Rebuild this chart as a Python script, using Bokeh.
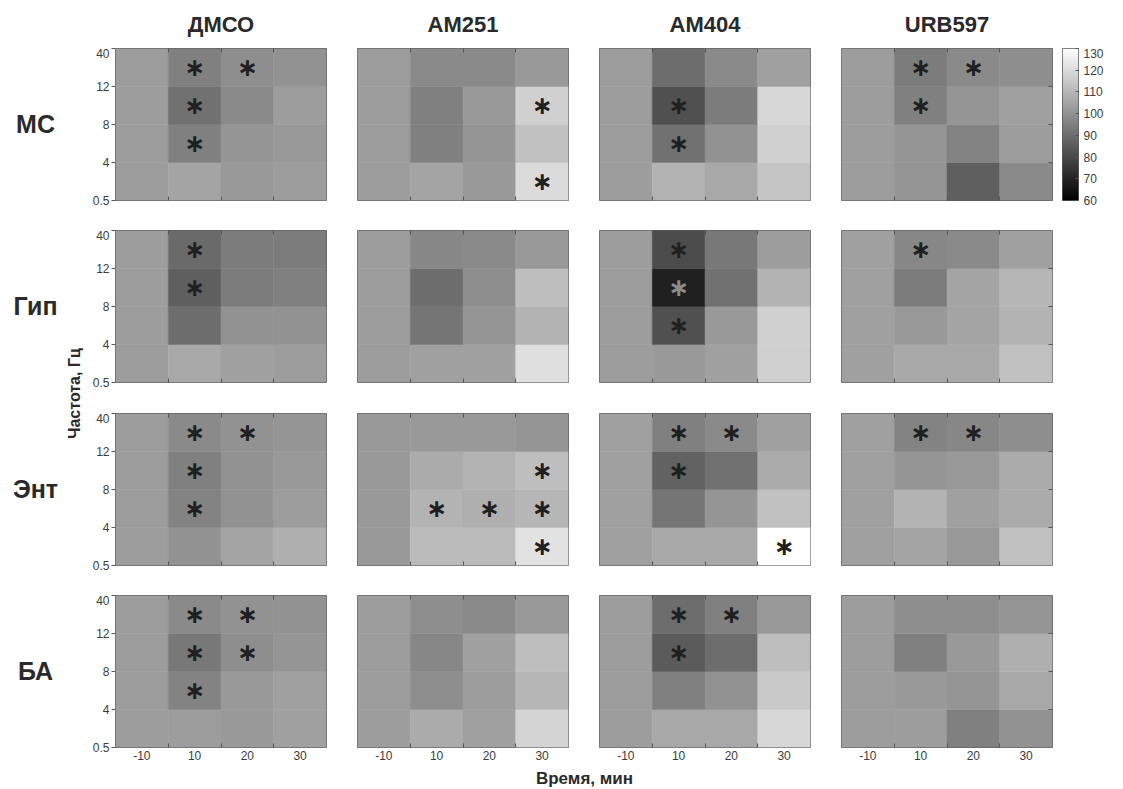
import numpy as np
from bokeh.plotting import figure
from bokeh.models import ColumnDataSource, LinearColorMapper, LinearAxis, FixedTicker, Label, Range1d
from bokeh.layouts import row, column
from bokeh.embed import file_html
from bokeh.resources import INLINE
from bokeh.core.properties import value
from bokeh.transform import transform

# ---------------------------------------------------------------- data
times = ["-10", "10", "20", "30"]                 # time, min
band_edges = ["0.5", "4", "8", "12", "40"]        # frequency, Hz
bands = ["0.5-4", "4-8", "8-12", "12-40"]
drugs = ["ДМСО", "AM251", "AM404", "URB597"]
regions = ["МС", "Гип", "Энт", "БА"]

# spectral power, % of baseline; per drug: rows = bands (low -> high), columns = times
power_ms = {
    "ДМСО":   [[103, 105, 102, 103], [103, 95, 101, 102], [103, 91, 98, 103], [103, 95, 99, 100]],
    "AM251":  [[103, 105, 102, 120], [103, 95, 101, 113], [103, 95, 102, 117], [103, 98, 98, 102]],
    "AM404":  [[103, 109, 106, 114], [103, 91, 100, 117], [103, 82, 94, 119], [103, 90, 98, 104]],
    "URB597": [[103, 101, 86, 98], [103, 101, 96, 103], [103, 95, 101, 104], [103, 94, 98, 99]],
}
power_gip = {
    "ДМСО":   [[103, 106, 104, 103], [103, 90, 100, 100], [103, 86, 94, 95], [103, 89, 94, 94]],
    "AM251":  [[103, 104, 104, 121], [103, 92, 101, 109], [103, 90, 99, 112], [103, 97, 98, 102]],
    "AM404":  [[103, 102, 104, 117], [103, 82, 102, 117], [103, 69, 91, 109], [103, 81, 93, 103]],
    "URB597": [[104, 106, 106, 113], [104, 102, 105, 109], [104, 94, 105, 110], [104, 97, 98, 104]],
}
power_ent = {
    "ДМСО":   [[103, 100, 105, 108], [103, 96, 100, 103], [103, 95, 100, 102], [103, 98, 100, 101]],
    "AM251":  [[102, 111, 111, 122], [102, 109, 108, 110], [102, 107, 109, 112], [102, 102, 102, 101]],
    "AM404":  [[104, 106, 106, 130], [104, 92, 101, 113], [104, 87, 91, 107], [104, 95, 98, 104]],
    "URB597": [[104, 105, 102, 113], [104, 109, 104, 107], [104, 101, 102, 107], [104, 96, 97, 99]],
}
power_ba = {
    "ДМСО":   [[103, 103, 102, 104], [103, 96, 102, 104], [103, 93, 99, 101], [103, 98, 100, 100]],
    "AM251":  [[103, 107, 104, 118], [103, 99, 103, 110], [103, 97, 104, 112], [103, 99, 98, 102]],
    "AM404":  [[103, 106, 106, 119], [103, 95, 100, 115], [103, 85, 90, 112], [103, 90, 95, 102]],
    "URB597": [[103, 103, 95, 100], [103, 102, 101, 106], [103, 95, 102, 108], [103, 99, 99, 101]],
}

# significant changes (time, band)
sig_ms = {
    "ДМСО": [("10", "12-40"), ("20", "12-40"), ("10", "8-12"), ("10", "4-8")],
    "AM251": [("30", "8-12"), ("30", "0.5-4")],
    "AM404": [("10", "8-12"), ("10", "4-8")],
    "URB597": [("10", "12-40"), ("20", "12-40"), ("10", "8-12")],
}
sig_gip = {
    "ДМСО": [("10", "12-40"), ("10", "8-12")],
    "AM251": [],
    "AM404": [("10", "12-40"), ("10", "8-12"), ("10", "4-8")],
    "URB597": [("10", "12-40")],
}
sig_ent = {
    "ДМСО": [("10", "12-40"), ("20", "12-40"), ("10", "8-12"), ("10", "4-8")],
    "AM251": [("30", "8-12"), ("10", "4-8"), ("20", "4-8"), ("30", "4-8"), ("30", "0.5-4")],
    "AM404": [("10", "12-40"), ("20", "12-40"), ("10", "8-12"), ("30", "0.5-4")],
    "URB597": [("10", "12-40"), ("20", "12-40")],
}
sig_ba = {
    "ДМСО": [("10", "12-40"), ("20", "12-40"), ("10", "8-12"), ("20", "8-12"), ("10", "4-8")],
    "AM251": [],
    "AM404": [("10", "12-40"), ("20", "12-40"), ("10", "8-12")],
    "URB597": [],
}

power = [power_ms, power_gip, power_ent, power_ba]
signif = [sig_ms, sig_gip, sig_ent, sig_ba]

cbar_ticks = [60, 70, 80, 90, 100, 110, 120, 130]
cbar_low, cbar_high = 60, 130

# ---------------------------------------------------------------- styling / geometry
FONT = "Liberation Sans"
TXT = "#2a2a2a"
TICK_TXT = "#3c3c3c"
FRAME_W, FRAME_H = 211, 152
LEFT_W = 85
TITLE_H = 48
col_borders = [(30, 31), (0, 31), (0, 31), (0, 6)]
row_borders = [(0, 30), (0, 31), (0, 30), (0, 20)]
GRID_H = sum(t + FRAME_H + b for t, b in row_borders)
TOTAL_W = 1123
BOTTOM_H = 789 - TITLE_H - GRID_H

grays = ["#%02x%02x%02x" % (g, g, g) for g in range(256)]
mapper = LinearColorMapper(palette=grays, low=cbar_low, high=cbar_high)


def plain(width, height, xr, yr, **kw):
    p = figure(width=width, height=height, x_range=xr, y_range=yr,
               x_axis_location=None, y_axis_location=None,
               output_backend="svg", toolbar_location=None, **kw)
    p.xgrid.grid_line_color = None
    p.ygrid.grid_line_color = None
    return p


def edge_axis(ticks, minor=None, labels=None, tick_out=0, tick_in=0, minor_in=0, standoff=0, font=None):
    ax = LinearAxis(
        ticker=FixedTicker(ticks=ticks, minor_ticks=minor or []),
        axis_line_color=None,
        major_tick_in=tick_in, major_tick_out=tick_out,
        minor_tick_in=minor_in, minor_tick_out=0,
        major_tick_line_color="#555555", minor_tick_line_color="#555555",
        major_label_text_font=FONT, major_label_standoff=standoff,
    )
    if font is None:
        # tick marks only
        ax.major_label_text_color = None
        ax.major_label_text_font_size = "1px"
    else:
        ax.major_label_text_font_size = font
        ax.major_label_text_color = TICK_TXT
    if labels:
        ax.major_label_overrides = labels
    return ax


def panel(r, c):
    drug = drugs[c]
    bl, br = col_borders[c]
    bt, bb = row_borders[r]
    p = plain(bl + FRAME_W + br, bt + FRAME_H + bb,
              Range1d(0, len(times)), Range1d(0, len(bands)),
              min_border_left=bl, min_border_right=br,
              min_border_top=bt, min_border_bottom=bb)
    p.outline_line_color = "#5a5a5a"
    p.outline_line_width = 1

    vals = power[r][drug]
    left, right, bottom, top, v = [], [], [], [], []
    for j, band_row in enumerate(vals):
        for i, val in enumerate(band_row):
            left.append(i); right.append(i + 1)
            bottom.append(j); top.append(j + 1)
            v.append(val)
    src = ColumnDataSource(dict(left=left, right=right, bottom=bottom, top=top, val=v))
    p.quad(left="left", right="right", bottom="bottom", top="top", source=src,
           fill_color=transform("val", mapper), line_color=transform("val", mapper),
           line_width=0.5)

    sx, sy, sc = [], [], []
    for t, b in signif[r][drug]:
        i, j = times.index(t), bands.index(b)
        sx.append(i + 0.5); sy.append(j + 0.5)
        sc.append("#8c8c8c" if vals[j][i] < 75 else "#202020")
    if sx:
        p.text(x=sx, y=sy, text=["∗"] * len(sx), text_color=sc,
               text_font=value("DejaVu Sans"), text_font_style="bold",
               text_font_size="25px", text_align="center", text_baseline="middle")

    centers = [i + 0.5 for i in range(len(times))]
    inner = list(range(1, len(times)))
    if r == len(regions) - 1:
        bx = edge_axis(centers, minor=inner, minor_in=4, standoff=3, font="12px",
                       labels={cc: t for cc, t in zip(centers, times)})
    else:
        bx = edge_axis(centers, minor=inner, minor_in=4)
    p.add_layout(bx, "below")
    p.add_layout(edge_axis(centers, minor=inner, minor_in=4), "above")

    if c == 0:
        ay = edge_axis(list(range(len(band_edges))), tick_out=4, standoff=2, font="12px",
                       labels={k: e for k, e in enumerate(band_edges)})
        p.add_layout(ay, "left")
    if c == len(drugs) - 1:
        p.add_layout(edge_axis(list(range(1, len(bands))), tick_in=4), "right")
    return p


# colour scale
cb = plain(4 + 16 + 45, row_borders[0][0] + FRAME_H + row_borders[0][1],
           Range1d(0, 1), Range1d(cbar_low, cbar_high),
           min_border_left=4, min_border_right=45,
           min_border_top=row_borders[0][0], min_border_bottom=row_borders[0][1])
cb.outline_line_color = "#5a5a5a"
cb.image(image=[np.linspace(cbar_low, cbar_high, 256).reshape(-1, 1)], x=0, y=cbar_low,
         dw=1, dh=cbar_high - cbar_low, color_mapper=mapper)
cb.add_layout(edge_axis(cbar_ticks, tick_in=3, standoff=5, font="12px"), "right")
cb.add_layout(Label(x=1, y=95, x_offset=22, text="%", text_align="left", text_baseline="middle",
                    text_font=FONT, text_font_size="13px", text_color=TICK_TXT))

# drug names above the columns
tf = plain(TOTAL_W, TITLE_H, Range1d(0, TOTAL_W), Range1d(0, TITLE_H), min_border=0)
tf.outline_line_color = None
tx, acc = [], LEFT_W
for bl, br in col_borders:
    tx.append(acc + bl + FRAME_W / 2)
    acc += bl + FRAME_W + br
tf.text(x=tx, y=[TITLE_H - 24] * len(drugs), text=drugs, text_align="center",
        text_baseline="middle", text_font=value(FONT), text_font_style="bold",
        text_font_size="22px", text_color=TXT)

# row names and frequency label
lf = plain(LEFT_W, GRID_H, Range1d(0, LEFT_W), Range1d(0, GRID_H), min_border=0)
lf.outline_line_color = None
ys, acc = [], 0
for t, b in row_borders:
    ys.append(GRID_H - (acc + t + FRAME_H / 2) + 1)
    acc += t + FRAME_H + b
lf.text(x=[35] * len(regions), y=ys, text=regions, text_align="center", text_baseline="middle",
        text_font=value(FONT), text_font_style="bold", text_font_size="25px", text_color=TXT)
lf.text(x=[74], y=[GRID_H - (393 - TITLE_H)], text=["Частота, Гц"], angle=np.pi / 2,
        text_align="center", text_baseline="middle",
        text_font=value(FONT), text_font_style="bold", text_font_size="16px", text_color=TXT)

# time label
bf = plain(TOTAL_W, BOTTOM_H, Range1d(0, TOTAL_W), Range1d(0, BOTTOM_H), min_border=0)
bf.outline_line_color = None
bf.text(x=[584], y=[BOTTOM_H / 2], text=["Время, мин"], text_align="center",
        text_baseline="middle", text_font=value(FONT), text_font_style="bold",
        text_font_size="17px", text_color=TXT)

rows = []
for r in range(len(regions)):
    figs = [panel(r, c) for c in range(len(drugs))]
    if r == 0:
        figs.append(cb)
    rows.append(row(*figs))

layout = column(tf, row(lf, column(*rows)), bf)
open("out.html", "w").write(file_html(layout, INLINE))
